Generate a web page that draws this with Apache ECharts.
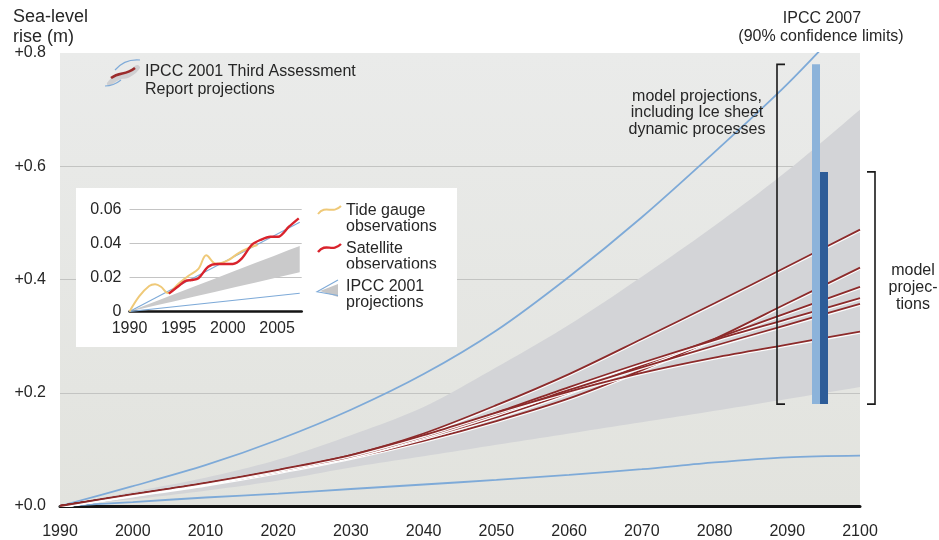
<!DOCTYPE html>
<html>
<head>
<meta charset="utf-8">
<title>Sea-level rise projections</title>
<script src="https://cdn.jsdelivr.net/npm/echarts@6/dist/echarts.min.js"></script>
<style>
  html, body { margin: 0; padding: 0; background: #ffffff; }
  #chart { width: 939px; height: 540px; }
</style>
</head>
<body>
<div id="chart"></div>
<script>
// ---- data -----------------------------------------------------------
const years = [1990, 2000, 2010, 2020, 2030, 2040, 2050, 2060, 2070, 2080, 2090, 2100];

// IPCC 2001 envelope (shaded range)
const envelopeLow  = [0, 0.012, 0.027, 0.045, 0.068, 0.088, 0.108, 0.128, 0.148, 0.168, 0.189, 0.21];
const envelopeHigh = [0, 0.025, 0.050, 0.082, 0.125, 0.175, 0.245, 0.320, 0.405, 0.495, 0.592, 0.70];

// IPCC 2001 outer limits (blue lines)
const outerHigh = [0, 0.035, 0.072, 0.117, 0.170, 0.233, 0.310, 0.405, 0.510, 0.625, 0.745, 0.88];
const outerLow  = [0, 0.007, 0.015, 0.022, 0.030, 0.038, 0.046, 0.055, 0.065, 0.077, 0.086, 0.089];

// Model projections (red lines)
const model1 = [0, 0.020, 0.040, 0.063, 0.090, 0.128, 0.178, 0.233, 0.295, 0.358, 0.423, 0.488];
const model2 = [0, 0.019, 0.038, 0.060, 0.085, 0.115, 0.150, 0.190, 0.240, 0.295, 0.358, 0.421];
const model3 = [0, 0.020, 0.039, 0.062, 0.087, 0.120, 0.157, 0.200, 0.248, 0.295, 0.341, 0.387];
const model4 = [0, 0.020, 0.040, 0.063, 0.088, 0.123, 0.165, 0.210, 0.253, 0.293, 0.330, 0.367];
const model5 = [0, 0.020, 0.040, 0.062, 0.087, 0.122, 0.162, 0.205, 0.245, 0.283, 0.320, 0.357];
const model6 = [0, 0.021, 0.041, 0.064, 0.090, 0.125, 0.165, 0.202, 0.235, 0.262, 0.285, 0.308];

// IPCC 2007 ranges (90% confidence limits): with ice-sheet dynamics, model only
const ipcc2007Low  = [0.18, 0.18];
const ipcc2007High = [0.78, 0.59];

// Inset: observations since 1990
const tideYears  = [1990, 1991, 1992, 1992.6, 1993.2, 1993.9, 1995, 1996, 1997, 1997.8, 1998.8, 2000, 2001, 2002, 2003];
const tideValues = [0, 0.009, 0.015, 0.016, 0.0145, 0.0108, 0.0165, 0.021, 0.025, 0.033, 0.028, 0.030, 0.034, 0.037, 0.039];
const satYears   = [1994, 1995, 1995.7, 1996.3, 1997, 1998, 1998.9, 2000.5, 2001.4, 2002.4, 2003.3, 2004.3, 2005.1, 2006.2, 2007.2];
const satValues  = [0.0105, 0.015, 0.018, 0.0185, 0.0195, 0.0263, 0.0279, 0.0279, 0.031, 0.039, 0.042, 0.0439, 0.0439, 0.0498, 0.0547];
const insetYears = [1990, 2007.3];
const insetHigh  = [0, 0.0524];
const insetLow   = [0, 0.0107];
const insetBandHigh = [0, 0.0385];
const insetBandLow  = [0, 0.023];

const mainTicks  = [0, 0.2, 0.4, 0.6, 0.8];
const insetTicks = [0, 0.02, 0.04, 0.06];

// ---- helpers --------------------------------------------------------
const pairs = (xs, ys) => xs.map((x, i) => [x, ys[i]]);
const FONT = '"Liberation Sans", Arial, Helvetica, sans-serif';
const TEXT = '#262626';
const RED = '#8c2a2a';
const BLUE = '#7eaad8';

// Catmull-Rom sampling of pixel points, used to draw smooth band edges
function smoothPath(pts, steps) {
  const out = [];
  for (let i = 0; i < pts.length - 1; i++) {
    const p0 = pts[Math.max(i - 1, 0)], p1 = pts[i], p2 = pts[i + 1], p3 = pts[Math.min(i + 2, pts.length - 1)];
    for (let s = 0; s < steps; s++) {
      const t = s / steps, t2 = t * t, t3 = t2 * t;
      const f = (a, b, c, d) => 0.5 * ((2 * b) + (-a + c) * t + (2 * a - 5 * b + 4 * c - d) * t2 + (-a + 3 * b - 3 * c + d) * t3);
      out.push([f(p0[0], p1[0], p2[0], p3[0]), f(p0[1], p1[1], p2[1], p3[1])]);
    }
  }
  out.push(pts[pts.length - 1]);
  return out;
}

// band between two value lists, drawn once as a single polygon
function bandSeries(xs, lows, highs, xi, yi, color, z) {
  return {
    type: 'custom', xAxisIndex: xi, yAxisIndex: yi, z: z, silent: true,
    data: xs.map((x, i) => [x, lows[i], highs[i]]),
    encode: { x: 0, y: [1, 2] },
    renderItem: function (params, api) {
      if (params.dataIndex !== 0) return null;
      const hi = xs.map((x, i) => api.coord([x, highs[i]]));
      const lo = xs.map((x, i) => api.coord([x, lows[i]]));
      const pts = smoothPath(hi, 10).concat(smoothPath(lo, 10).reverse());
      return { type: 'polygon', shape: { points: pts }, style: { fill: color } };
    }
  };
}

function modelLine(values) {
  return {
    type: 'line', xAxisIndex: 0, yAxisIndex: 0,
    data: pairs(years, values), smooth: 0.3, symbol: 'none', z: 4,
    lineStyle: {
      color: RED, width: 1.8,
      shadowColor: 'rgba(255,255,255,0.95)', shadowBlur: 0, shadowOffsetY: 1.3
    }
  };
}

const BAR_YEAR = 2094.5;

const chart = echarts.init(document.getElementById('chart'), null, { renderer: 'canvas' });

const option = {
  animation: false,
  backgroundColor: '#ffffff',
  textStyle: { fontFamily: FONT },
  grid: [
    {
      left: 60, right: 79, top: 53, bottom: 34, show: true, borderWidth: 0,
      backgroundColor: {
        type: 'linear', x: 0, y: 0, x2: 0, y2: 1,
        colorStops: [{ offset: 0, color: '#eaebea' }, { offset: 1, color: '#e2e3de' }]
      }
    },
    { left: 129.5, top: 209.3, width: 172.2, height: 102.2, show: false, z: 11 }
  ],
  xAxis: [
    {
      gridIndex: 0, type: 'value', min: 1990, max: 2100, interval: 10,
      axisLine: { show: true, lineStyle: { color: '#141414', width: 3 } },
      axisTick: { show: false }, splitLine: { show: false },
      axisLabel: { color: TEXT, fontSize: 16, fontFamily: FONT, margin: 18, formatter: v => String(v) }
    },
    {
      gridIndex: 1, type: 'value', min: 1990, max: 2007.5, interval: 5, z: 11,
      axisLine: { show: true, lineStyle: { color: '#141414', width: 2.5 } },
      axisTick: { show: false }, splitLine: { show: false },
      axisLabel: {
        color: TEXT, fontSize: 16, fontFamily: FONT, margin: 9, showMaxLabel: false,
        formatter: v => (v % 5 === 0 ? String(v) : '')
      }
    }
  ],
  yAxis: [
    {
      gridIndex: 0, type: 'value', min: mainTicks[0], max: mainTicks[mainTicks.length - 1], interval: 0.2,
      axisLine: { show: false }, axisTick: { show: false },
      splitLine: { show: true, lineStyle: { color: '#c3c4c2', width: 1 }, showMaxLine: false },
      axisLabel: {
        color: TEXT, fontSize: 16, fontFamily: FONT, margin: 14,
        formatter: v => '+' + v.toFixed(1)
      }
    },
    {
      gridIndex: 1, type: 'value', min: insetTicks[0], max: insetTicks[insetTicks.length - 1], interval: 0.02, z: 11,
      axisLine: { show: false }, axisTick: { show: false },
      splitLine: { show: true, lineStyle: { color: '#c4c4c4', width: 1 } },
      axisLabel: {
        color: TEXT, fontSize: 16, fontFamily: FONT, margin: 8,
        formatter: v => (v === 0 ? '0' : v.toFixed(2))
      }
    }
  ],
  series: [
    // shaded envelope
    bandSeries(years, envelopeLow, envelopeHigh, 0, 0, '#d3d4d7', 2),
    // outer limits
    {
      type: 'line', xAxisIndex: 0, yAxisIndex: 0, smooth: 0.3, symbol: 'none', z: 3, clip: true,
      data: pairs(years, outerHigh), lineStyle: { color: BLUE, width: 1.8 }
    },
    {
      type: 'line', xAxisIndex: 0, yAxisIndex: 0, smooth: 0.3, symbol: 'none', z: 3,
      data: pairs(years, outerLow), lineStyle: { color: BLUE, width: 1.8 }
    },
    modelLine(model1), modelLine(model2), modelLine(model3),
    modelLine(model4), modelLine(model5), modelLine(model6),
    // IPCC 2007 range bars
    {
      type: 'custom', xAxisIndex: 0, yAxisIndex: 0, z: 6,
      data: ipcc2007Low.map((lo, i) => [BAR_YEAR, lo, ipcc2007High[i]]),
      encode: { x: 0, y: [1, 2] },
      renderItem: function (params, api) {
        const top = api.coord([api.value(0), api.value(2)]);
        const bot = api.coord([api.value(0), api.value(1)]);
        const i = params.dataIndex;
        const x0 = i === 0 ? top[0] - 8 : top[0];
        return {
          type: 'rect',
          shape: { x: x0, y: top[1], width: 8, height: bot[1] - top[1] },
          style: { fill: i === 0 ? '#8cb3da' : '#2d5c98' }
        };
      }
    },
    // brackets marking each range
    {
      type: 'custom', xAxisIndex: 0, yAxisIndex: 0, z: 6,
      data: ipcc2007Low.map((lo, i) => [BAR_YEAR, lo, ipcc2007High[i]]),
      encode: { x: 0, y: [1, 2] },
      renderItem: function (params, api) {
        const top = api.coord([api.value(0), api.value(2)]);
        const bot = api.coord([api.value(0), api.value(1)]);
        const i = params.dataIndex;
        const x = i === 0 ? top[0] - 43 : top[0] + 55;
        const arm = i === 0 ? 8 : -8;
        return {
          type: 'polyline',
          shape: { points: [[x + arm, top[1]], [x, top[1]], [x, bot[1]], [x + arm, bot[1]]] },
          style: { stroke: '#1a1a1a', lineWidth: 1.6, fill: null }
        };
      }
    },
    // ---- inset ----
    bandSeries(insetYears, insetBandLow, insetBandHigh, 1, 1, '#cacacb', 12),
    {
      type: 'line', xAxisIndex: 1, yAxisIndex: 1, symbol: 'none', z: 13,
      data: pairs(insetYears, insetHigh), lineStyle: { color: BLUE, width: 1.1 }
    },
    {
      type: 'line', xAxisIndex: 1, yAxisIndex: 1, symbol: 'none', z: 13,
      data: pairs(insetYears, insetLow), lineStyle: { color: BLUE, width: 1.1 }
    },
    {
      type: 'line', xAxisIndex: 1, yAxisIndex: 1, symbol: 'none', smooth: 0.35, z: 14,
      data: pairs(tideYears, tideValues), lineStyle: { color: '#efc978', width: 2 }
    },
    {
      type: 'line', xAxisIndex: 1, yAxisIndex: 1, symbol: 'none', smooth: 0.3, z: 15,
      data: pairs(satYears, satValues), lineStyle: { color: '#d9232c', width: 2.4 }
    }
  ],
  graphic: [
    // axis title
    {
      type: 'text', x: 13, y: 7, z: 20,
      style: { text: 'Sea-level\nrise (m)', font: '18px ' + FONT, fill: TEXT, lineHeight: 20 }
    },
    // IPCC 2001 key
    {
      type: 'polygon', z: 20,
      shape: { points: [[107, 83], [116, 75], [127, 72], [137, 65], [140, 68], [130, 77], [119, 80], [109, 86]], smooth: 0.4 },
      style: { fill: '#cfcfd1' }
    },
    {
      type: 'bezierCurve', z: 21,
      shape: { x1: 111, y1: 78, cpx1: 120, cpy1: 71, cpx2: 125, cpy2: 76, x2: 135, y2: 68 },
      style: { stroke: '#9b2b2b', lineWidth: 2.6, fill: null }
    },
    {
      type: 'bezierCurve', z: 21,
      shape: { x1: 115, y1: 70, cpx1: 121, cpy1: 63, cpx2: 129, cpy2: 59, x2: 140, y2: 60 },
      style: { stroke: BLUE, lineWidth: 1.2, fill: null }
    },
    {
      type: 'bezierCurve', z: 21,
      shape: { x1: 105, y1: 86, cpx1: 110, cpy1: 86, cpx2: 116, cpy2: 84, x2: 121, y2: 80 },
      style: { stroke: BLUE, lineWidth: 1.2, fill: null }
    },
    {
      type: 'text', x: 145, y: 63, z: 20,
      style: { text: 'IPCC 2001 Third Assessment\nReport projections', font: '16px ' + FONT, fill: TEXT, lineHeight: 17.5 }
    },
    // IPCC 2007 labels
    {
      type: 'text', x: 822, y: 19, z: 20,
      style: { text: 'IPCC 2007', font: '16px ' + FONT, fill: TEXT, align: 'center', verticalAlign: 'middle' }
    },
    {
      type: 'text', x: 821, y: 37, z: 20,
      style: { text: '(90% confidence limits)', font: '16px ' + FONT, fill: TEXT, align: 'center', verticalAlign: 'middle' }
    },
    {
      type: 'text', x: 697, y: 113, z: 20,
      style: {
        text: 'model projections,\nincluding Ice sheet\ndynamic processes',
        font: '16px ' + FONT, fill: TEXT, align: 'center', verticalAlign: 'middle', lineHeight: 16.7
      }
    },
    {
      type: 'text', x: 913, y: 288, z: 20,
      style: {
        text: 'model\nprojec-\ntions', font: '16px ' + FONT, fill: TEXT,
        align: 'center', verticalAlign: 'middle', lineHeight: 17
      }
    },
    // inset panel
    {
      type: 'rect', z: 10, silent: true,
      shape: { x: 76, y: 188, width: 381, height: 159 },
      style: { fill: '#ffffff' }
    },
    // inset key
    {
      type: 'bezierCurve', z: 20,
      shape: { x1: 318, y1: 214, cpx1: 326, cpy1: 204, cpx2: 332, cpy2: 215, x2: 341, y2: 206 },
      style: { stroke: '#efc978', lineWidth: 2, fill: null }
    },
    {
      type: 'text', x: 346, y: 202, z: 20,
      style: { text: 'Tide gauge\nobservations', font: '16px ' + FONT, fill: TEXT, lineHeight: 16.7 }
    },
    {
      type: 'bezierCurve', z: 20,
      shape: { x1: 318, y1: 252, cpx1: 326, cpy1: 242, cpx2: 332, cpy2: 253, x2: 341, y2: 244 },
      style: { stroke: '#d9232c', lineWidth: 2.4, fill: null }
    },
    {
      type: 'text', x: 346, y: 240, z: 20,
      style: { text: 'Satellite\nobservations', font: '16px ' + FONT, fill: TEXT, lineHeight: 16.7 }
    },
    {
      type: 'rect', z: 21, silent: true,
      shape: { x: 316, y: 268.5, width: 130, height: 6 },
      style: { fill: '#ffffff' }
    },
    {
      type: 'polygon', z: 20,
      shape: { points: [[320, 291], [338, 284], [338, 297]] },
      style: { fill: '#c6c6c7' }
    },
    {
      type: 'polyline', z: 21,
      shape: { points: [[338, 280], [317, 291.7], [338, 295.5]] },
      style: { stroke: BLUE, lineWidth: 1.1, fill: null }
    },
    {
      type: 'text', x: 346, y: 278, z: 20,
      style: { text: 'IPCC 2001\nprojections', font: '16px ' + FONT, fill: TEXT, lineHeight: 16.7 }
    }
  ]
};

chart.setOption(option);
</script>
</body>
</html>
